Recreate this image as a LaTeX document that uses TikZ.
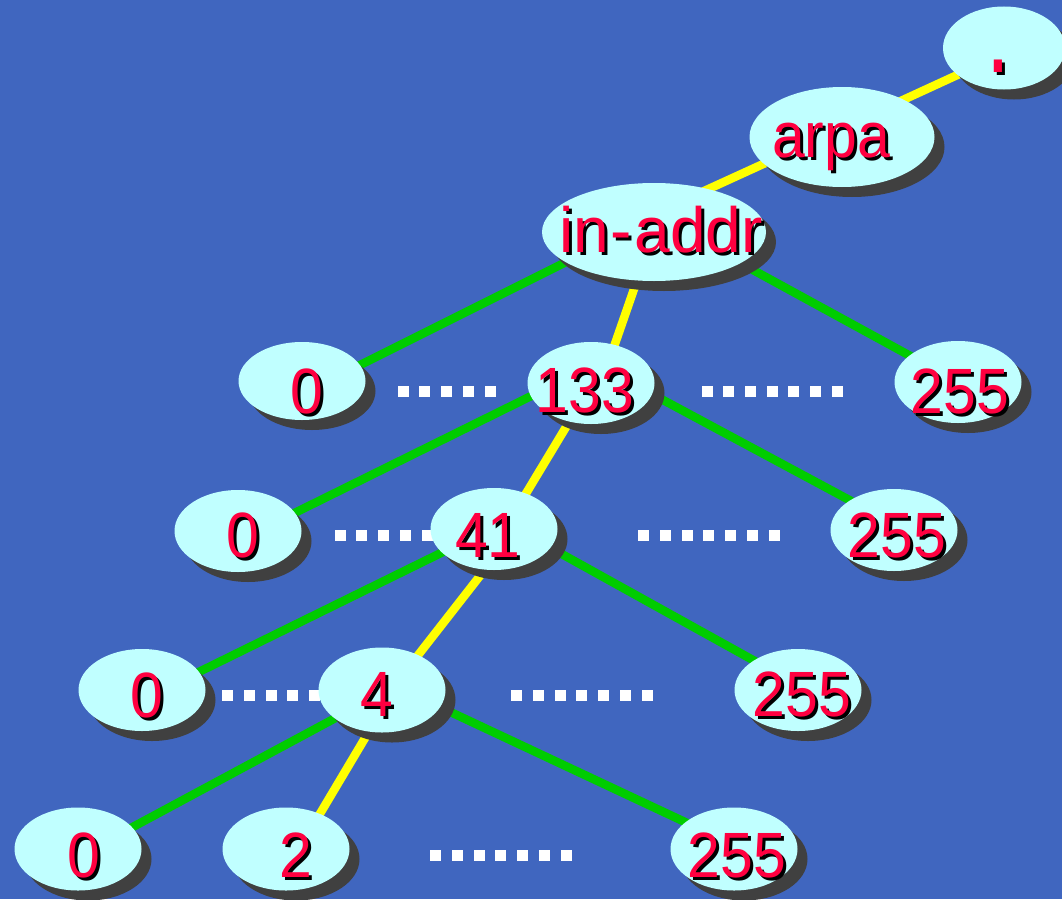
\documentclass[tikz,border=0pt]{standalone}
\usepackage{fontspec}
\setmainfont{Liberation Sans}
\usetikzlibrary{calc,shadows,shapes.geometric}
\definecolor{bgblue}{RGB}{64,102,191}
\definecolor{cyanfill}{RGB}{192,255,255}
\definecolor{shgray}{RGB}{64,64,64}
\definecolor{lblred}{RGB}{255,0,64}
\definecolor{edgegreen}{RGB}{0,204,0}
\definecolor{edgeyellow}{RGB}{255,255,0}
\pgfdeclarelayer{back}
\pgfdeclarelayer{edges}
\pgfsetlayers{back,edges,main}
\tikzset{
  ell/.style={draw=none, fill=cyanfill, ellipse, inner sep=0pt,
    minimum width=127pt, minimum height=82pt,
    drop shadow={shadow xshift=10pt, shadow yshift=-10pt, fill=shgray, opacity=1}},
  lbl/.style={anchor=base, text=lblred, inner sep=0pt, xscale=0.92,
    font=\fontsize{64}{70}\selectfont},
  lblsh/.style={lbl, text=black},
  gedge/.style={draw=edgegreen, line width=8.5pt},
  yedge/.style={draw=edgeyellow, line width=8.5pt},
  dotsq/.style={fill=white}
}
\newcommand\lbltext[5][]{%
  \node[lblsh,#1] (#2s) at (#3+3,#4+3) {#5};
  \node[lbl,#1] (#2) at (#3,#4) {#5};}
\newcommand\dotrow[4]{% start x, y, count, pitch
  \foreach \k in {1,...,#3} {
    \fill[dotsq] ({#1+(\k-1)*#4-5.5},{#2-5.5}) rectangle ++(11,11);
  }}
\begin{document}
\begin{tikzpicture}[x=1pt,y=-1pt]
\begin{pgfonlayer}{back}
  \fill[bgblue] (0,0) rectangle (1062,899);
\end{pgfonlayer}
\useasboundingbox (0,0) rectangle (1062,899);

% ellipses
\node[ell, minimum width=122pt, minimum height=83pt] (ndot) at (1004,48) {};
\node[ell, minimum width=185pt, minimum height=100pt] (narpa) at (842,137) {};
\node[ell, minimum width=224pt, minimum height=98pt] (ninaddr) at (654,232) {};
\node[ell, minimum height=78pt] (a0) at (302,381) {};
\node[ell] (a133) at (591,383) {};
\node[ell] (a255) at (958,382) {};
\node[ell] (b0) at (238,531) {};
\node[ell] (b41) at (494,529) {};
\node[ell] (b255) at (894,530) {};
\node[ell] (c0) at (142,690) {};
\node[ell, minimum height=85pt] (c4) at (382,690) {};
\node[ell] (c255) at (798,690) {};
\node[ell, minimum height=83pt] (d0) at (78,849) {};
\node[ell, minimum height=83pt] (d2) at (286,849) {};
\node[ell, minimum height=83pt] (d255) at (734,849) {};

% labels
\lbltext[xscale=1.45, yscale=1.83]{tdot}{998}{72}{.}
\lbltext{tarpa}{831}{157}{arpa}
\lbltext[xscale=1.087]{tinaddr}{661}{252}{in\kern1.5pt-\kern3pt addr}
\lbltext{ta0}{307}{413}{0}
\lbltext{ta133}{585}{412}{133}
\lbltext{ta255}{960}{413}{255}
\lbltext{tb0}{243}{557}{0}
\lbltext{tb41}{488}{557}{41}
\lbltext{tb255}{897}{557}{255}
\lbltext{tc0}{147}{717}{0}
\lbltext{tc4}{377}{716}{4}
\lbltext{tc255}{802}{716}{255}
\lbltext{td0}{84}{877}{0}
\lbltext{td2}{296}{877}{2}
\lbltext{td255}{737}{877}{255}

\begin{pgfonlayer}{edges}
  % yellow path
  \draw[yedge] ($(ndot)+(-1,6)$) -- ($(narpa)+(0,-9)$);
  \draw[yedge] ($(narpa)+(0,-9)$) -- ($(ninaddr)+(2,-19)$);
  \draw[yedge] ($(ninaddr)+(5,-15)$) -- ($(a133)+(17,-19)$);
  \draw[yedge] ($(a133)+(13,-19)$) -- ($(b41)+(10,1)$);
  \draw[yedge] ($(b41)+(28,-7)$) -- ($(c4)+(12,-4)$);
  \draw[yedge] ($(c4)+(14,-4)$) -- ($(d2)+(13,0)$);
  % green edges
  \draw[gedge] ($(ninaddr)+(2,-15)$) -- ($(a0)+(8,9)$);
  \draw[gedge] ($(ninaddr)+(2,-15)$) -- (a255.center);
  \draw[gedge] ($(a133)+(5,-19)$) -- ($(b0)+(12,4)$);
  \draw[gedge] ($(a133)+(5,-19)$) -- ($(b255)+(0,-6)$);
  \draw[gedge] ($(b41)+(10,-7)$) -- ($(c0)+(8,6)$);
  \draw[gedge] ($(b41)+(10,-7)$) -- ($(c255)+(0,-5)$);
  \draw[gedge] ($(c4)+(13,-4)$) -- ($(d0)+(12,1)$);
  \draw[gedge] ($(c4)+(13,-4)$) -- ($(d255)+(0,-4)$);
  % dotted separators
  \dotrow{403}{391.5}{5}{21.8}
  \dotrow{707}{391.5}{7}{21.7}
  \dotrow{340}{535.5}{5}{21.8}
  \dotrow{643.5}{535.5}{7}{21.8}
  \dotrow{227.5}{695.5}{5}{21.8}
  \dotrow{516.5}{695.5}{7}{21.8}
  \dotrow{435.5}{855}{7}{21.8}
\end{pgfonlayer}
\end{tikzpicture}
\end{document}
